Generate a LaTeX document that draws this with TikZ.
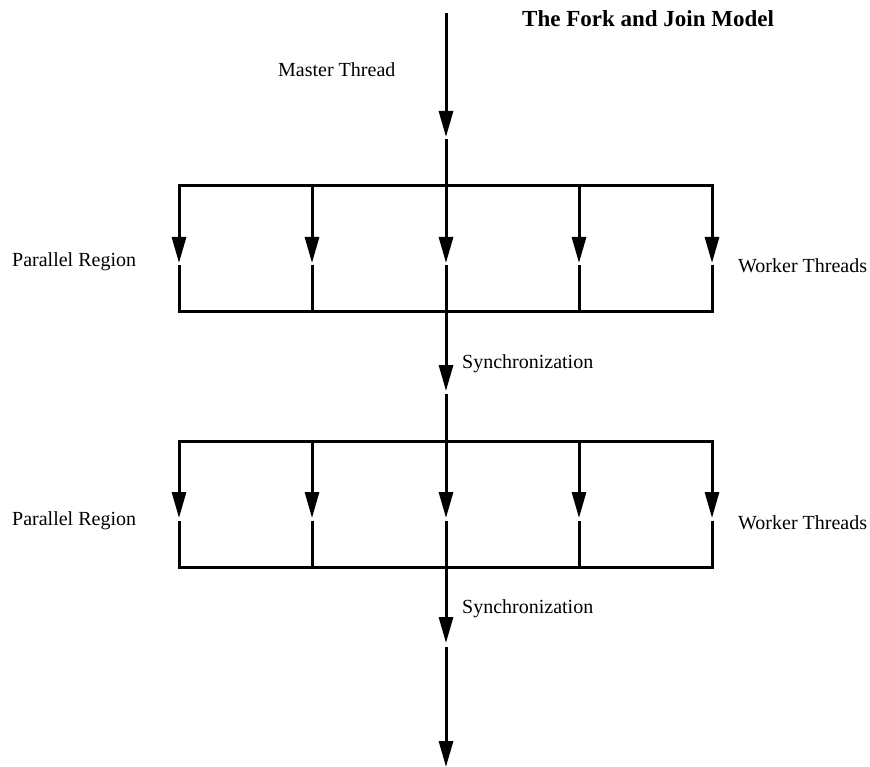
\documentclass[tikz,border=0pt]{standalone}
\usepackage{fontspec}
\setmainfont{Liberation Serif}
\usetikzlibrary{positioning}
\usetikzlibrary{arrows.meta}

\tikzset{
  flow/.style={line width=3pt, -{Triangle[length=26pt,width=14pt]}},
  wire/.style={line width=3pt, line cap=rect},
  txt/.style={font=\fontsize{20}{24}\selectfont, inner sep=0pt, anchor=base west},
  headline/.style={font=\fontsize{23}{28}\selectfont\bfseries, inner sep=0pt, anchor=base west},
}

\begin{document}
\begin{tikzpicture}[x=1pt,y=-1pt]
    \useasboundingbox (0,0) rectangle (870,767);

    \coordinate (start) at (446,13);
    \coordinate (master) at (446,137);
    \coordinate (sync_1) at (446,391);
    \coordinate (sync_2) at (446,643);
    \coordinate (finish) at (446,767);

    % the two parallel regions
    \foreach \b/\top/\tip/\bot in {1/186/263/312, 2/441/518/567} {
        \foreach \i/\x in {1/179, 2/312, 3/446, 4/579, 5/712} {
            \coordinate (top_\b_\i) at (\x,\top);
            \coordinate (tip_\b_\i) at (\x,\tip);
            \coordinate (bot_\b_\i) at (\x,\bot);
            \draw[flow] (top_\b_\i) -- (tip_\b_\i);
            \draw[wire, shorten <=4pt] (tip_\b_\i) -- (bot_\b_\i);
        }
        \draw[wire] (top_\b_1) -- (top_\b_5);
        \draw[wire] (bot_\b_1) -- (bot_\b_5);
    }

    \draw[flow] (start) -- (master);
    \draw[wire, shorten <=4pt] (master) -- (top_1_3);
    \draw[flow] (bot_1_3) -- (sync_1);
    \draw[wire, shorten <=4pt] (sync_1) -- (top_2_3);
    \draw[flow] (bot_2_3) -- (sync_2);
    \draw[flow, shorten <=4pt] (sync_2) -- (finish);

    \node[headline] (heading) at (522,27) {The Fork and Join Model};
    \node[txt] (master_lbl) at (278,77) {Master Thread};
    \node[txt] (region_1) at (12,267) {Parallel Region};
    \node[txt] (workers_1) at (738,273) {Worker Threads};
    \node[txt] (sync_lbl_1) at (462,368) {Synchronization};
    \node[txt] (region_2) at (12,525) {Parallel Region};
    \node[txt] (workers_2) at (738,529) {Worker Threads};
    \node[txt] (sync_lbl_2) at (462,613) {Synchronization};
\end{tikzpicture}
\end{document}
